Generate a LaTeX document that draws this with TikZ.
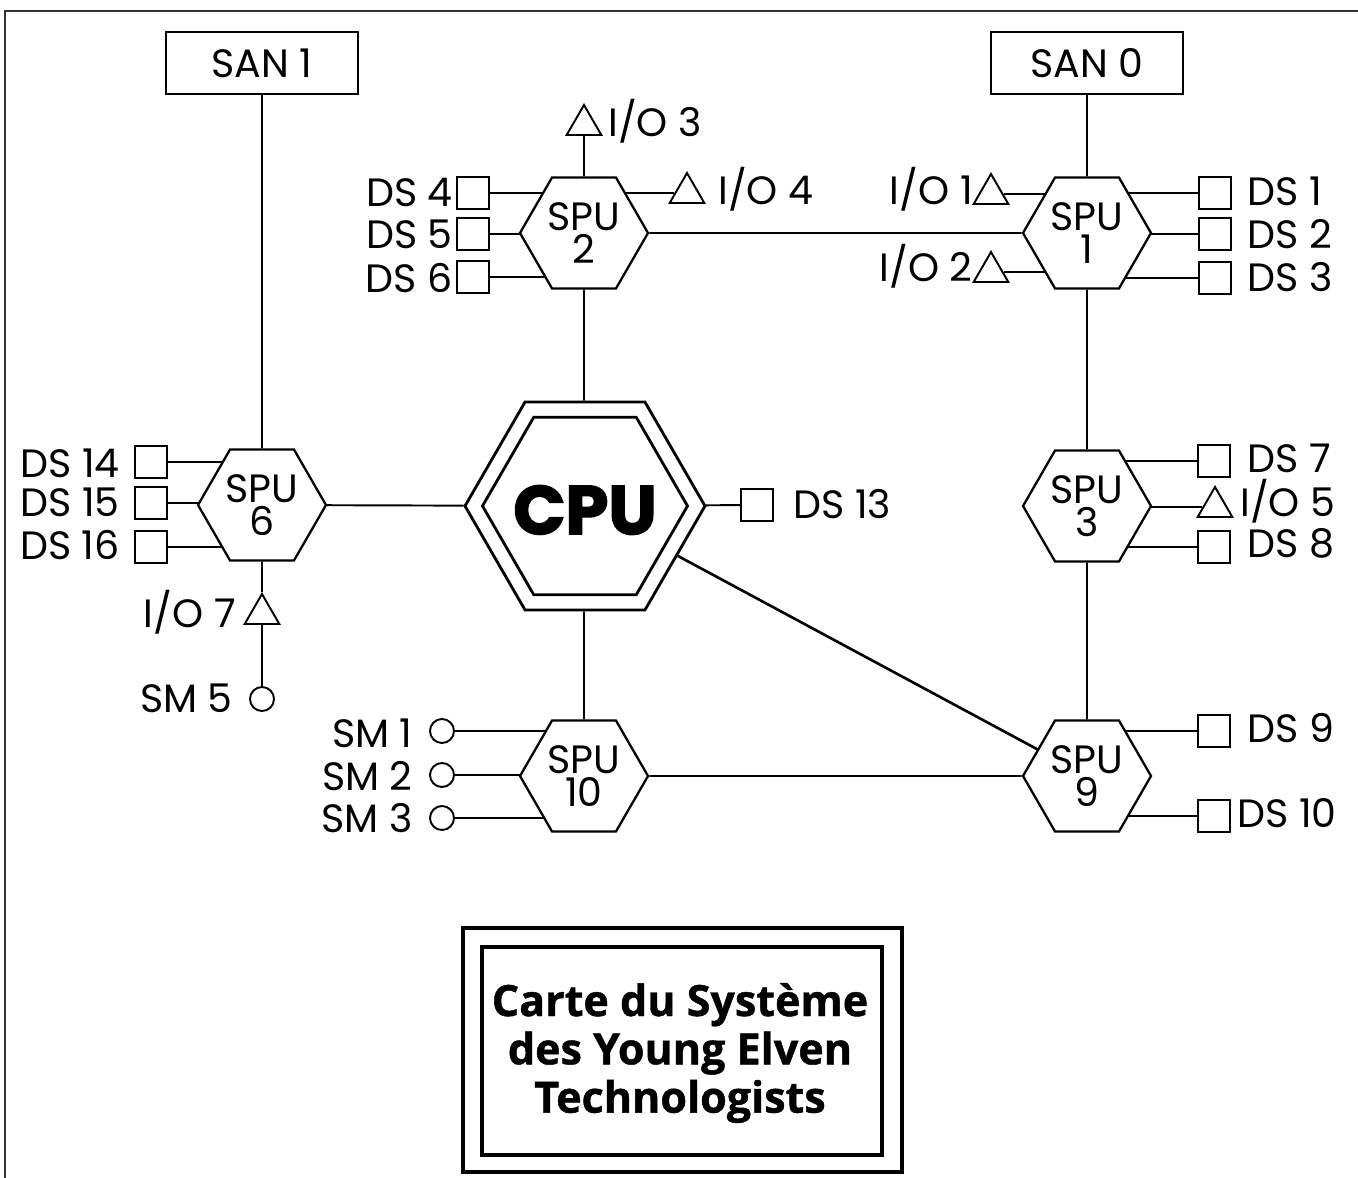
\documentclass[tikz,border=0pt]{standalone}
\usepackage{fontspec}
\setmainfont{Poppins}
\newfontfamily\cpufont[BoldFeatures={FakeBold=2.5}]{Poppins}
\newfontfamily\titlefont[BoldFeatures={FakeBold=1}]{Open Sans}
\usetikzlibrary{shapes.geometric,backgrounds}
\begin{document}
\begin{tikzpicture}[x=0.2mm,y=-0.2mm,
  every node/.style={font=\fontsize{22.5}{18.8}\selectfont},
  wire/.style={line width=1.1pt},
  spu/.style={draw, line width=1.3pt, fill=white, regular polygon, regular polygon sides=6,
     minimum size=25.6mm, inner sep=0pt, align=center},
  cpuout/.style={draw, line width=1.6pt, fill=white, regular polygon, regular polygon sides=6,
     minimum size=48mm, inner sep=0pt},
  cpuin/.style={draw, line width=1.6pt, regular polygon, regular polygon sides=6,
     minimum size=41mm, inner sep=0pt},
  sanbox/.style={draw, line width=1.2pt, fill=white, minimum width=38.5mm, minimum height=12.4mm, inner sep=0pt},
  dsq/.style={draw, line width=1.1pt, fill=white, minimum size=6.4mm, inner sep=0pt},
  iot/.style={draw, line width=1.1pt, fill=white, regular polygon, regular polygon sides=3, minimum size=8mm, inner sep=0pt},
  smc/.style={draw, line width=1.1pt, fill=white, circle, minimum size=4.8mm, inner sep=0pt},
  lbl/.style={inner sep=0pt, text height=16pt, text depth=0pt},
]
\useasboundingbox (0,0) rectangle (1358,1178);
\draw[line width=0.45mm, black!80] (5,1178) -- (5,11) -- (1358,11);

% SAN boxes
\node[sanbox] (san1) at (262,63) {SAN 1};
\node[sanbox] (san0) at (1087,63) {SAN 0};

% SPUs
\node[spu] (spu2) at (584,233) {SPU\\2};
\node[spu] (spu1) at (1087,233) {SPU\\1};
\node[spu] (spu3) at (1087,506) {SPU\\3};
\node[spu] (spu9) at (1087,776) {SPU\\9};
\node[spu] (spu10) at (584,776) {SPU\\10};
\node[spu] (spu6) at (262,505) {SPU\\6};

% CPU
\node[cpuout] (cpu) at (585,506) {};
\node[cpuin] (cpuin) at (cpu.center) {};
\node[inner sep=0pt, font=\cpufont\bfseries\fontsize{39}{40}\selectfont] (cputext) at (585,510) {CPU};

% DS squares
\node[dsq] (ds4) at (473,193) {};
\node[dsq] (ds5) at (473,234) {};
\node[dsq] (ds6) at (473,277) {};
\node[dsq] (ds1) at (1215,193) {};
\node[dsq] (ds2) at (1215,234) {};
\node[dsq] (ds3) at (1215,278) {};
\node[dsq] (ds7) at (1214,461) {};
\node[dsq] (ds8) at (1214,547) {};
\node[dsq] (ds9) at (1214,731) {};
\node[dsq] (ds10) at (1214,816) {};
\node[dsq] (ds13) at (757,505) {};
\node[dsq] (ds14) at (151,462) {};
\node[dsq] (ds15) at (151,503) {};
\node[dsq] (ds16) at (151,547) {};

% I/O triangles
\node[iot] (io3) at (584,125) {};
\node[iot] (io4) at (687,193) {};
\node[iot] (io1) at (991,194) {};
\node[iot] (io2) at (991,272) {};
\node[iot] (io5) at (1215,507) {};
\node[iot] (io7) at (262,614) {};

% SM circles
\node[smc] (sm1) at (442,731) {};
\node[smc] (sm2) at (442,775) {};
\node[smc] (sm3) at (442,818) {};
\node[smc] (sm5) at (262,699) {};

% labels
\node[lbl, anchor=east] (lds4) at (453,192) {DS 4};
\node[lbl, anchor=east] (lds5) at (453,234) {DS 5};
\node[lbl, anchor=east] (lds6) at (453,278) {DS 6};
\node[lbl, anchor=west] (lio3) at (608,122) {I/O 3};
\node[lbl, anchor=west] (lio4) at (718,190) {I/O 4};
\node[lbl, anchor=east] (lio1) at (973,190) {I/O 1};
\node[lbl, anchor=east] (lio2) at (973,267) {I/O 2};
\node[lbl, anchor=west] (lds1) at (1247,191) {DS 1};
\node[lbl, anchor=west] (lds2) at (1247,234) {DS 2};
\node[lbl, anchor=west] (lds3) at (1247,277) {DS 3};
\node[lbl, anchor=west] (lds7) at (1247,458) {DS 7};
\node[lbl, anchor=west] (lio5) at (1240,502) {I/O 5};
\node[lbl, anchor=west] (lds8) at (1247,543) {DS 8};
\node[lbl, anchor=west] (lds9) at (1247,728) {DS 9};
\node[lbl, anchor=west] (lds10) at (1237,813) {DS 10};
\node[lbl, anchor=west] (lds13) at (793,504) {DS 13};
\node[lbl, anchor=east] (lsm1) at (413,733) {SM 1};
\node[lbl, anchor=east] (lsm2) at (413,776) {SM 2};
\node[lbl, anchor=east] (lsm3) at (413,818) {SM 3};
\node[lbl, anchor=east] (lsm5) at (233,698) {SM 5};
\node[lbl, anchor=east] (lio7) at (236,613) {I/O 7};
\node[lbl, anchor=east] (lds14) at (120,463) {DS 14};
\node[lbl, anchor=east] (lds15) at (120,502) {DS 15};
\node[lbl, anchor=east] (lds16) at (120,545) {DS 16};

% title
\node[draw, line width=2.8pt, minimum width=87.8mm, minimum height=48.8mm, inner sep=0pt] (tframe) at (682.5,1050) {};
\node[draw, line width=2pt, minimum width=80mm, minimum height=41.6mm, inner sep=0pt] (tinner) at (682,1051) {};
\node[align=center, font=\titlefont\bfseries\fontsize{24.5}{27.5}\selectfont] (title) at (680,1053)
  {Carte du Système\\des Young Elven\\Technologists};

\begin{pgfonlayer}{background}
\draw[wire] (san1) -- (spu6);
\draw[wire] (spu6) -- (io7);
\draw[wire] (io7) -- (sm5);
\draw[wire] (san0) -- (spu1);
\draw[wire] (spu1) -- (spu3);
\draw[wire] (spu3) -- (spu9);
\draw[wire] (spu2) -- (spu1);
\draw[wire] (spu2) -- (io3);
\draw[wire] (spu2) -- (spu2 |- cpu.north);
\draw[wire] (spu10) -- (spu10 |- cpu.south);
\draw[wire] (spu6) -- (cpu);
\draw[wire] (cpu) -- (ds13);
\draw[line width=1.5pt] (cpu) -- (spu9);
\draw[wire] (spu10) -- (spu9);
\foreach \p/\s in {ds4/spu2, ds5/spu2, ds6/spu2, io4/spu2,
                   ds1/spu1, ds2/spu1, ds3/spu1, io1/spu1, io2/spu1,
                   ds7/spu3, io5/spu3, ds8/spu3,
                   ds9/spu9, ds10/spu9,
                   sm1/spu10, sm2/spu10, sm3/spu10,
                   ds14/spu6, ds15/spu6, ds16/spu6}
  \draw[wire] (\p) -- (\p -| \s);
\end{pgfonlayer}
\end{tikzpicture}
\end{document}
